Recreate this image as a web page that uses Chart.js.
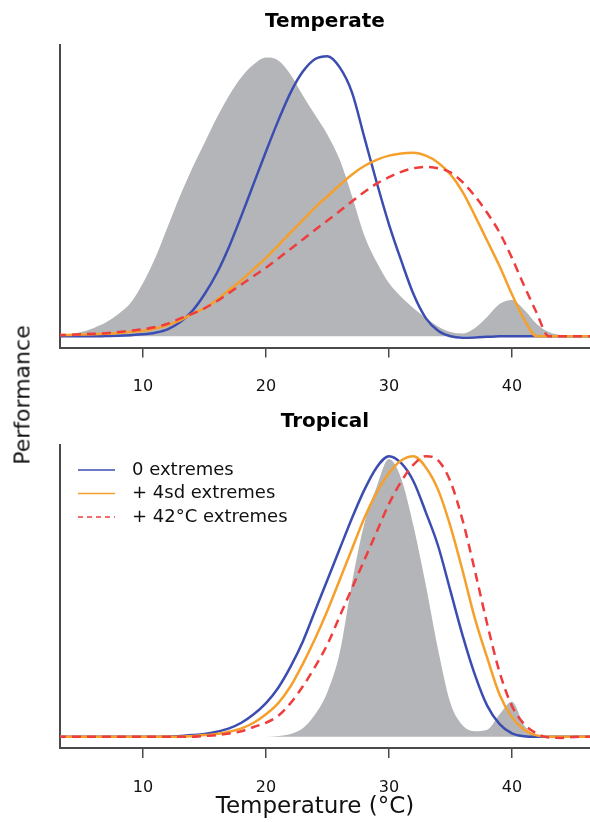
<!DOCTYPE html>
<html>
<head>
<meta charset="utf-8">
<script src="https://cdn.jsdelivr.net/npm/chart.js@4.4.1/dist/chart.umd.min.js"></script>
<style>
body{margin:0;background:#fff;width:590px;height:822px;position:relative;overflow:hidden;font-family:"DejaVu Sans",sans-serif}
.panel{position:absolute;left:0;width:590px}
.axlab{position:absolute;font-size:22px;color:#111;white-space:nowrap}
#ylab{left:22px;top:395px;transform:translate(-50%,-50%) rotate(-90deg)}
#xlab{left:315px;top:805px;transform:translate(-50%,-50%);font-size:23px}
</style>
</head>
<body>
<div class="panel" style="top:0;height:400px"><canvas id="temperate"></canvas></div>
<div class="panel" style="top:400px;height:422px"><canvas id="tropical"></canvas></div>
<div class="axlab" id="ylab">Performance</div>
<div class="axlab" id="xlab">Temperature (°C)</div>
<script>
let temps = [3,4,5,6,7,8,9,10,11,12,13,14,15,16,17,18,19,20,21,22,23,24,25,26,27,28,29,30,31,32,33,34,35,36,37,38,39,40,41,42,43,44,45,46,47]
let xTicks = [10,20,30,40]
let seriesLabels = ["0 extremes","+ 4sd extremes","+ 42°C extremes"]

// temperate panel
let temperateHabitat = [0.004,0.007,0.015,0.03,0.05,0.08,0.12,0.19,0.28,0.39,0.5,0.6,0.69,0.78,0.86,0.925,0.97,0.995,0.985,0.935,0.86,0.79,0.72,0.63,0.5,0.36,0.265,0.19,0.14,0.1,0.065,0.035,0.015,0.01,0.03,0.07,0.115,0.13,0.095,0.045,0.015,0.004,0,0,0]
let temperateNone = [0,0,0,0,0.001,0.002,0.004,0.007,0.013,0.025,0.05,0.09,0.15,0.225,0.32,0.43,0.545,0.66,0.77,0.87,0.945,0.99,1.0,0.96,0.87,0.71,0.55,0.4,0.27,0.15,0.065,0.02,0,-0.005,-0.004,-0.002,0,0,0,0,0,0,0,0,0]
let temperate4sd = [0.004,0.005,0.006,0.007,0.009,0.012,0.016,0.02,0.028,0.04,0.057,0.08,0.1,0.13,0.165,0.2,0.24,0.28,0.325,0.37,0.415,0.46,0.5,0.54,0.578,0.608,0.63,0.645,0.653,0.655,0.645,0.62,0.578,0.515,0.43,0.34,0.25,0.15,0.06,0,0,0,0,0,0]
let temperate42 = [0.004,0.005,0.007,0.009,0.011,0.015,0.02,0.025,0.033,0.045,0.063,0.08,0.1,0.125,0.155,0.185,0.215,0.245,0.278,0.312,0.346,0.38,0.413,0.447,0.482,0.515,0.545,0.568,0.587,0.6,0.605,0.6,0.585,0.55,0.5,0.44,0.37,0.28,0.18,0.085,0,0,0,0,0]

// tropical panel
let tropicalHabitat = [0,0,0,0,0,0,0,0,0,0,0,0,0,0,0,0,0,0,0.003,0.01,0.03,0.08,0.16,0.3,0.55,0.76,0.89,0.99,0.92,0.75,0.54,0.31,0.12,0.04,0.02,0.025,0.08,0.125,0.04,0.005,0,0,0,0,0]
let tropicalNone = [0,0,0,0,0,0,0,0,0,0,0.003,0.006,0.01,0.018,0.03,0.05,0.08,0.12,0.175,0.25,0.34,0.45,0.56,0.67,0.78,0.88,0.96,1.0,0.975,0.91,0.8,0.68,0.52,0.36,0.22,0.11,0.045,0.012,0.002,0,0,0,0,0,0]
let tropical4sd = [0,0,0,0,0,0,0,0,0,0,0,0.003,0.006,0.01,0.018,0.03,0.05,0.08,0.12,0.18,0.26,0.35,0.45,0.56,0.67,0.78,0.87,0.94,0.985,1.0,0.96,0.88,0.75,0.59,0.42,0.28,0.15,0.07,0.025,0.005,0,0,0,0,0]
let tropical42 = [0,0,0,0,0,0,0,0,0,0,0,0,0.003,0.006,0.012,0.02,0.035,0.05,0.075,0.12,0.18,0.25,0.33,0.43,0.53,0.63,0.73,0.83,0.91,0.97,1.0,0.985,0.91,0.77,0.59,0.4,0.23,0.11,0.045,0.012,-0.003,-0.004,-0.001,0,0]

let fontFamily = "'DejaVu Sans', sans-serif"
let axisColor = "#4a4a4a"

function toPoints(values){
return temps.map((t,i)=>({x:t,y:values[i]}))
}

let insetLegend = {
id:"insetLegend",
afterDraw(chart, args, opts){
if(!opts.display) return
let ctx = chart.ctx
let area = chart.chartArea
let y = area.top + opts.top
ctx.save()
ctx.font = opts.font
ctx.textBaseline = "middle"
ctx.fillStyle = "#111"
chart.data.datasets.forEach(ds=>{
if(ds.fill) return
ctx.strokeStyle = ds.borderColor
ctx.lineWidth = 1.5
ctx.setLineDash(ds.borderDash ? [5,4] : [])
ctx.beginPath()
ctx.moveTo(area.left + opts.lineStart, y)
ctx.lineTo(area.left + opts.lineEnd, y)
ctx.stroke()
ctx.fillText(ds.label, area.left + opts.textStart, y)
y += opts.rowGap
})
ctx.restore()
}
}

function makeChart(canvasId, title, habitat, none, sd4, c42, isBottom, axisHeight){
return new Chart(document.getElementById(canvasId),{
type:"line",
data:{
datasets:[
{
label:"habitat",
data:toPoints(habitat),
fill:"origin",
backgroundColor:"#b3b5b8",
borderWidth:0,
pointRadius:0,
cubicInterpolationMode:"monotone",
order:4
},
{
label:seriesLabels[0],
data:toPoints(none),
borderColor:"#3c4db1",
borderWidth:2.5,
pointRadius:0,
fill:false,
cubicInterpolationMode:"monotone",
order:3
},
{
label:seriesLabels[1],
data:toPoints(sd4),
borderColor:"#f6a02c",
borderWidth:2.5,
pointRadius:0,
fill:false,
cubicInterpolationMode:"monotone",
order:2
},
{
label:seriesLabels[2],
data:toPoints(c42),
borderColor:"#ef3d3d",
borderWidth:2.5,
borderDash:[9,6],
pointRadius:0,
fill:false,
cubicInterpolationMode:"monotone",
order:1
}
]
},
options:{
responsive:true,
maintainAspectRatio:false,
animation:false,
layout:{padding:{left:60,right:0,top:10,bottom:0}},
plugins:{
legend:{display:false},
tooltip:{enabled:false},
title:{
display:true,
text:title,
color:"#000",
font:{family:fontFamily,size:20,weight:"bold",lineHeight:1.2},
padding:{top:0,bottom:11}
},
insetLegend:{
display:isBottom,
font:"18px " + fontFamily,
top:25,
rowGap:23.5,
lineStart:18,
lineEnd:55,
textStart:72
}
},
scales:{
x:{
type:"linear",
min:3.25,
max:46.35,
afterBuildTicks:scale=>{ scale.ticks = xTicks.map(v=>({value:v})) },
afterFit:scale=>{ scale.height = axisHeight },
grid:{display:true,drawOnChartArea:false,drawTicks:true,tickLength:10,color:axisColor,lineWidth:1.5},
border:{display:true,color:axisColor,width:2},
ticks:{color:"#111",font:{family:fontFamily,size:16},padding:20,maxRotation:0}
},
y:{
min:-0.04,
max:1.04,
ticks:{display:false},
grid:{display:false,drawTicks:false},
border:{display:true,color:axisColor,width:2}
}
}
},
plugins:[insetLegend]
})
}

makeChart("temperate","Temperate",temperateHabitat,temperateNone,temperate4sd,temperate42,false,52.5)
makeChart("tropical","Tropical",tropicalHabitat,tropicalNone,tropical4sd,tropical42,true,74)
</script>
</body>
</html>
